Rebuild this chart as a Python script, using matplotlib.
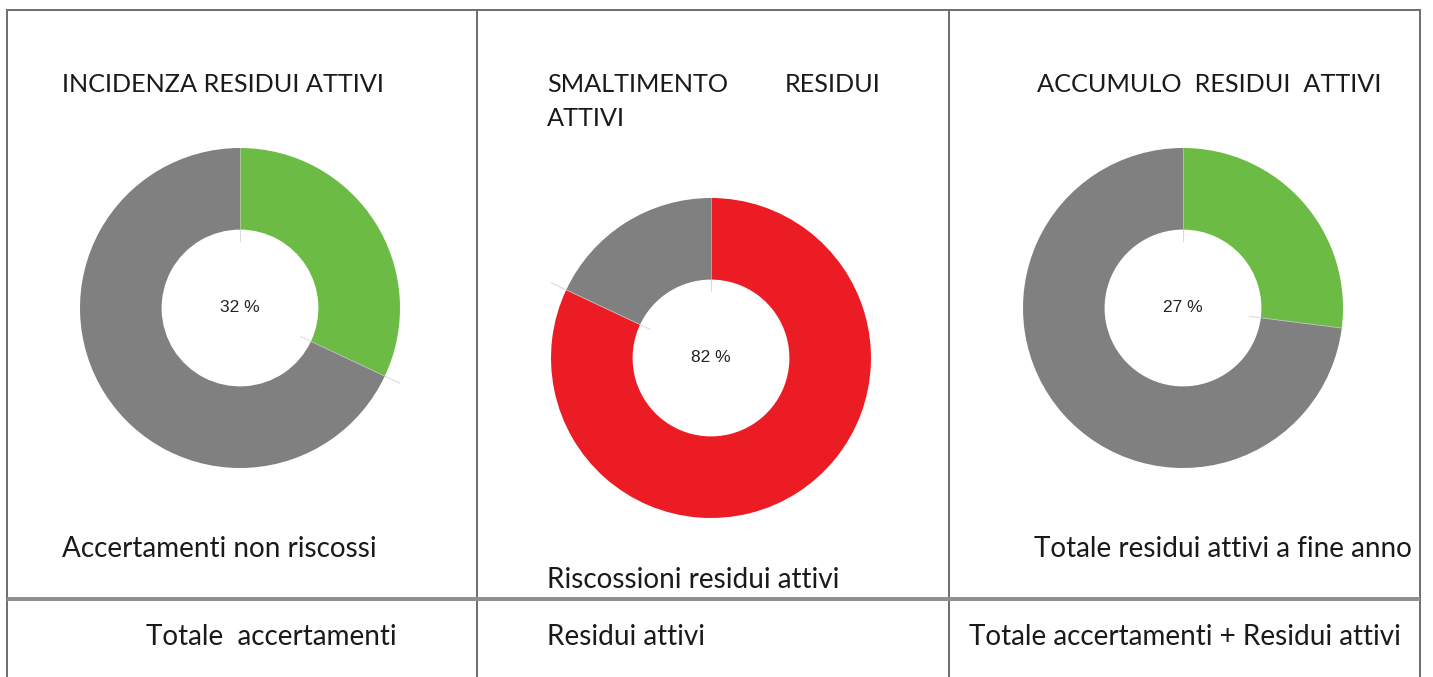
import matplotlib
matplotlib.use("Agg")
import matplotlib.pyplot as plt
import numpy as np

# ---- data ----
titles = ["INCIDENZA RESIDUI ATTIVI", "SMALTIMENTO RESIDUI ATTIVI", "ACCUMULO  RESIDUI  ATTIVI"]
shares = [32, 82, 27]                      # highlighted share (%)
highlight_colors = ["#6bbb45", "#ec1c24", "#6bbb45"]
rest_color = "#808080"
numerators = ["Accertamenti non riscossi", "Riscossioni residui attivi", "Totale residui attivi a fine anno"]
denominators = ["Totale  accertamenti", "Residui attivi", "Totale accertamenti + Residui attivi"]

W, H = 1433, 677
fig = plt.figure(figsize=(W / 100, H / 100), dpi=100)
bg = fig.add_axes([0, 0, 1, 1])
bg.set_xlim(0, W)
bg.set_ylim(H, 0)
bg.axis("off")

border = "#707070"
lw_b = 2 * 0.72
# table borders
bg.plot([7, 1420], [10, 10], color=border, lw=lw_b, solid_capstyle="butt")
for x in [7.5, 477, 949, 1420]:
    bg.plot([x, x], [9, H], color=border, lw=lw_b, solid_capstyle="butt")
bg.plot([7, 1420], [598.5, 598.5], color="#8f8f8f", lw=4 * 0.72, solid_capstyle="butt")

title_font = dict(family=["Lato", "DejaVu Sans"], fontsize=18.2, color="#1a1a1a")
body_font = dict(family=["Lato", "DejaVu Sans"], fontsize=20.1, color="#1a1a1a")

# titles
bg.text(62, 84, titles[0], ha="left", va="center", **title_font)
t2 = titles[1].split(" ")
bg.text(547, 84, t2[0], ha="left", va="center", **title_font)
bg.text(881, 84, t2[1], ha="right", va="center", **title_font)
bg.text(547, 118, t2[2], ha="left", va="center", **title_font)
bg.text(1037, 84, titles[2], ha="left", va="center", **title_font)

# numerator labels
bg.text(62, 549, numerators[0], ha="left", va="center", **body_font)
bg.text(547, 580, numerators[1], ha="left", va="center", **body_font)
bg.text(1034, 549, numerators[2], ha="left", va="center", **body_font)

# denominator labels
bg.text(146, 637, denominators[0], ha="left", va="center", **body_font)
bg.text(547, 637, denominators[1], ha="left", va="center", **body_font)
bg.text(969, 637, denominators[2], ha="left", va="center", **body_font)

# donuts: centre (px) and outer radius (px)
centers = [(240, 308), (711, 358), (1183, 308)]
R = 160
for i, (cx, cy) in enumerate(centers):
    left = (cx - R) / W
    bottom = (H - cy - R) / H
    ax = fig.add_axes([left, bottom, 2 * R / W, 2 * R / H])
    vals = [shares[i], 100 - shares[i]]
    ax.pie(vals, colors=[highlight_colors[i], rest_color], startangle=90,
           counterclock=False, radius=1.0,
           wedgeprops=dict(width=0.51, linewidth=0))
    # faint boundary ticks
    cum = np.cumsum([0] + vals[:-1])
    for c in cum:
        ang = np.deg2rad(90 - c * 3.6)
        r0, r1 = 0.42, 1.11
        ax.plot([r0 * np.cos(ang), r1 * np.cos(ang)],
                [r0 * np.sin(ang), r1 * np.sin(ang)],
                color="#c8c8c8", lw=0.6, alpha=0.8)
    ax.text(0, 0, f"{shares[i]} %", ha="center", va="center",
            family=["Liberation Sans", "DejaVu Sans"], fontsize=12.5, color="#222222")
    ax.set_xlim(-1, 1)
    ax.set_ylim(-1, 1)
    ax.set_aspect("equal")
    ax.axis("off")

fig.savefig("out.png", dpi=100)
